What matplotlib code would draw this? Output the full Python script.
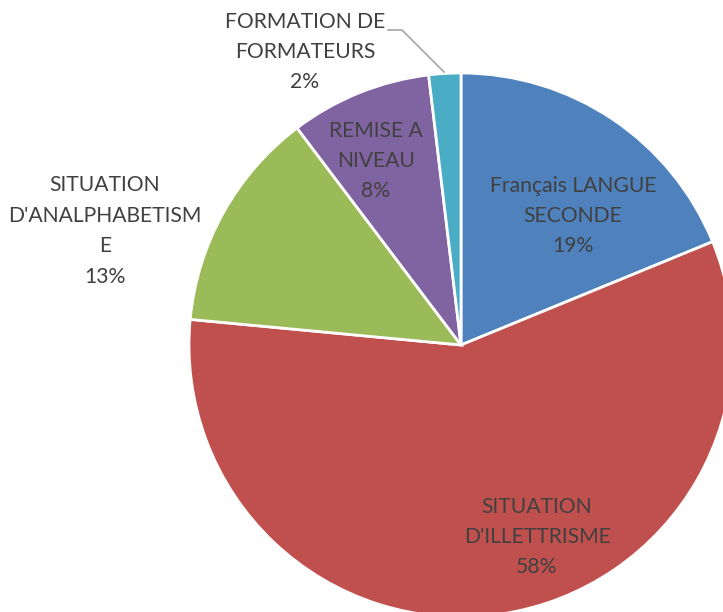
import matplotlib.pyplot as plt

labels = [
    "Français LANGUE\nSECONDE",
    "SITUATION\nD'ILLETTRISME",
    "SITUATION\nD'ANALPHABETISM\nE",
    "REMISE A\nNIVEAU",
    "FORMATION DE\nFORMATEURS",
]
values = [18.8, 57.7, 13.2, 8.4, 1.9]
colors = ["#4F81BD", "#C0504D", "#9BBB59", "#8064A2", "#4BACC6"]


def main():
    fig = plt.figure(figsize=(7.23, 6.12), dpi=100)
    axis = fig.add_axes([0, 0, 1, 1])

    # pie in pixel units, y counted from the bottom
    center = (461, 612 - 345)
    radius = 272
    axis.pie(
        values,
        colors=colors,
        startangle=90,
        counterclock=False,
        center=center,
        radius=radius,
        wedgeprops={"edgecolor": "white", "linewidth": 2},
    )
    axis.set_xlim(0, 723)
    axis.set_ylim(0, 612)
    axis.set_aspect("equal")
    axis.axis("off")

    # label anchors (pixels from top-left)
    label_pos = [(573, 216), (537, 537), (105, 231), (376, 161), (305, 52)]
    total = sum(values)
    for text, val, (px, py) in zip(labels, values, label_pos):
        pct = round(val / total * 100)
        axis.text(
            px,
            612 - py,
            f"{text}\n{pct}%",
            ha="center",
            va="center",
            fontsize=15.2,
            family="Lato",
            color="#404040",
            linespacing=1.65,
        )

    # leader line for the small slice
    axis.plot([388, 402, 444], [612 - 30, 612 - 30, 612 - 72], color="#A6A6A6", lw=1.2)

    fig.savefig("out.png", dpi=100)


if __name__ == "__main__":
    main()
